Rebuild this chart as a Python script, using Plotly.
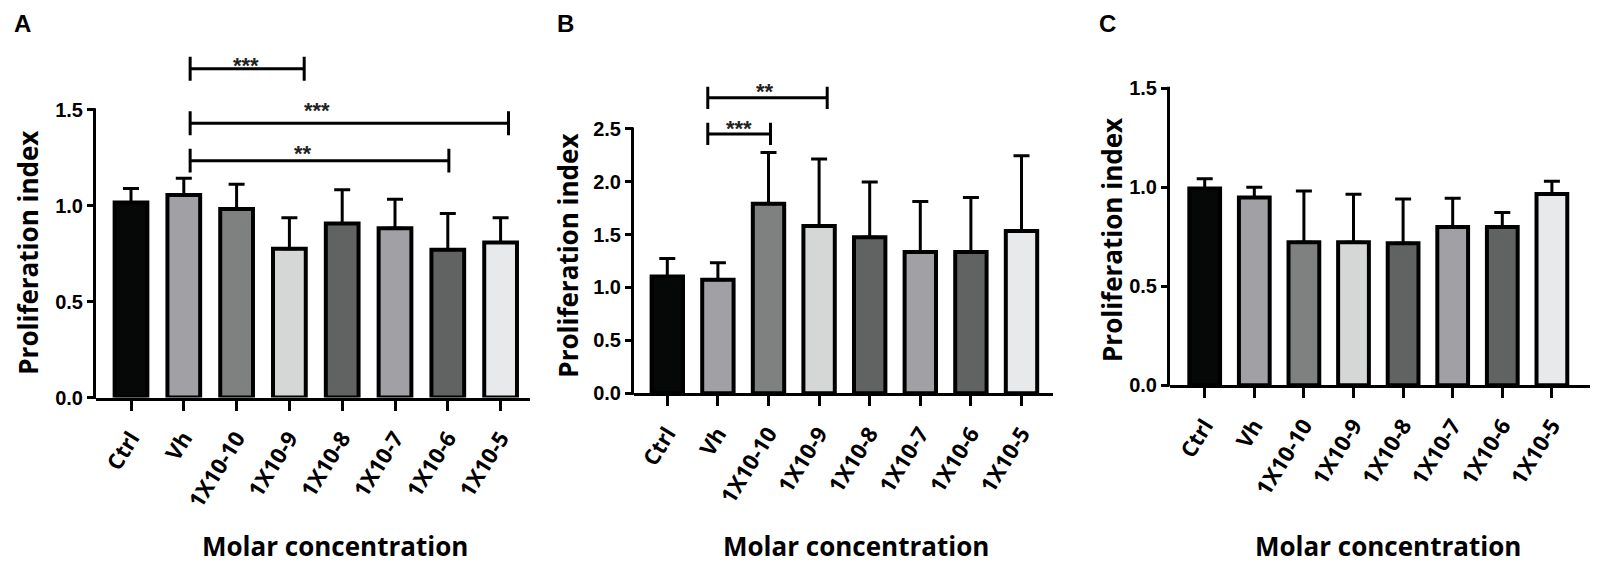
import plotly.graph_objects as go

# ---------------- data ----------------
categories = ["Ctrl", "Vh", "1X10-10", "1X10-9", "1X10-8", "1X10-7", "1X10-6", "1X10-5"]
bar_colors = ["#060808", "#a1a1a5", "#7f8080", "#d5d7d6", "#616262", "#a1a1a5", "#616262", "#e8e9ea"]

means_a = [1.017, 1.056, 0.983, 0.776, 0.907, 0.883, 0.770, 0.808]
sd_a = [0.073, 0.087, 0.129, 0.161, 0.176, 0.151, 0.189, 0.129]

means_b = [1.104, 1.072, 1.792, 1.581, 1.474, 1.335, 1.335, 1.535]
sd_b = [0.169, 0.161, 0.484, 0.634, 0.524, 0.478, 0.515, 0.710]

means_c = [0.994, 0.948, 0.722, 0.722, 0.717, 0.799, 0.799, 0.966]
sd_c = [0.049, 0.052, 0.259, 0.242, 0.224, 0.146, 0.074, 0.064]

ytick_vals_a = [0, 0.5, 1.0, 1.5]
ytick_vals_b = [0, 0.5, 1.0, 1.5, 2.0, 2.5]
ytick_vals_c = [0, 0.5, 1.0, 1.5]

# significance brackets (category-index positions, y in data units)
brk_a_x0 = [1.12, 1.12, 1.12]
brk_a_x1 = [3.28, 7.15, 6.02]
brk_a_y = [1.714, 1.430, 1.235]
brk_a_lbl = ["***", "***", "**"]
brk_a_lbl_x = [2.17, 3.52, 3.26]
brk_a_lbl_y = [1.755, 1.524, 1.297]

brk_b_x0 = [0.80, 0.80]
brk_b_x1 = [3.16, 2.04]
brk_b_y = [2.794, 2.452]
brk_b_lbl = ["**", "***"]
brk_b_lbl_x = [1.93, 1.41]
brk_b_lbl_y = [2.90, 2.55]

# ---------------- layout geometry (pixels) ----------------
W, H = 1603, 566
panels = [
    dict(left=88, right=522, zero=397.0, scale=196.0, ymax=1.8, ytop=1.5, x0=123.0, dx=52.8,
         means=means_a, sd=sd_a, ticks=ytick_vals_a,
         brk=(brk_a_x0, brk_a_x1, brk_a_y, brk_a_lbl, brk_a_lbl_x, brk_a_lbl_y), half=0.062,
         letter="A", letter_x=14, ytitle_x=20, ytitle_y=249, xtitle_x=327),
    dict(left=626, right=1045, zero=392.5, scale=108.0, ymax=2.95, ytop=2.5, x0=659.3, dx=50.6,
         means=means_b, sd=sd_b, ticks=ytick_vals_b,
         brk=(brk_b_x0, brk_b_x1, brk_b_y, brk_b_lbl, brk_b_lbl_x, brk_b_lbl_y), half=0.105,
         letter="B", letter_x=557, ytitle_x=560, ytitle_y=252, xtitle_x=848),
    dict(left=1162, right=1582, zero=384.3, scale=202.2, ymax=1.55, ytop=1.5, x0=1196.7, dx=49.6,
         means=means_c, sd=sd_c, ticks=ytick_vals_c, brk=None, half=0,
         letter="C", letter_x=1099, ytitle_x=1104, ytitle_y=236, xtitle_x=1380),
]

fig = go.Figure()
shapes = []
annotations = []
layout_axes = {}

for i, p in enumerate(panels, start=1):
    xa = "x" if i == 1 else f"x{i}"
    ya = "y" if i == 1 else f"y{i}"
    xkey = "xaxis" if i == 1 else f"xaxis{i}"
    ykey = "yaxis" if i == 1 else f"yaxis{i}"

    top_px = p["zero"] - p["ymax"] * p["scale"]
    xdom = [p["left"] / W, p["right"] / W]
    ydom = [1 - p["zero"] / H, 1 - top_px / H]
    xr = [(p["left"] - p["x0"]) / p["dx"], (p["right"] - p["x0"]) / p["dx"]]

    fig.add_trace(go.Bar(
        x=list(range(len(categories))), y=p["means"],
        xaxis=xa, yaxis=ya, width=0.62,
        marker=dict(color=bar_colors, line=dict(color="black", width=4)),
        error_y=dict(type="data", symmetric=False, array=p["sd"], arrayminus=[0] * len(p["sd"]),
                     color="black", thickness=3, width=8),
        showlegend=False, hoverinfo="skip",
    ))

    layout_axes[xkey] = dict(
        domain=xdom, range=xr, anchor=ya,
        tickmode="array", tickvals=list(range(len(categories))), ticktext=categories,
        tickangle=-58, ticks="outside", ticklen=10, tickwidth=3, tickcolor="black",
        ticklabelstandoff=6,
        showline=True, linewidth=3, linecolor="black", showgrid=False, zeroline=False,
        tickfont=dict(family="Open Sans", size=22, color="black", weight="bold"),
    )
    layout_axes[ykey] = dict(
        domain=ydom, range=[0, p["ymax"]], anchor=xa,
        tickmode="array", tickvals=p["ticks"], ticktext=[f"{v:.1f}" for v in p["ticks"]],
        ticks="outside", ticklen=8, tickwidth=3, tickcolor="black",
        showline=False, showgrid=False, zeroline=False,
        tickfont=dict(family="Liberation Sans", size=20, color="black", weight="bold"),
    )

    # y axis line only up to last tick
    shapes.append(dict(type="line", xref="paper", yref="paper",
                       x0=xdom[0] - 1.5 / W, x1=xdom[0] - 1.5 / W,
                       y0=ydom[0] - 1.5 / H, y1=ydom[0] + p["ytop"] * p["scale"] / H + 1.5 / H,
                       line=dict(color="black", width=3)))

    if p["brk"]:
        bx0, bx1, by, blbl, blx, bly = p["brk"]
        for k in range(len(bx0)):
            shapes.append(dict(type="path", xref=xa, yref=ya,
                               path=(f"M{bx0[k]},{by[k]-p['half']} L{bx0[k]},{by[k]+p['half']} "
                                     f"M{bx0[k]},{by[k]} L{bx1[k]},{by[k]} "
                                     f"M{bx1[k]},{by[k]-p['half']} L{bx1[k]},{by[k]+p['half']}"),
                               line=dict(color="black", width=3)))
            annotations.append(dict(xref=xa, yref=ya, x=blx[k], y=bly[k], text=f"<b>{blbl[k]}</b>",
                                    showarrow=False, yanchor="middle", yshift=-5,
                                    font=dict(family="Liberation Sans", size=22, color="#222")))

    annotations.append(dict(xref="paper", yref="paper", x=p["letter_x"] / W, y=1 - 15 / H,
                            text=f"<b>{p['letter']}</b>", showarrow=False, xanchor="center", yanchor="middle",
                            font=dict(family="Liberation Sans", size=24, color="black")))
    annotations.append(dict(xref="paper", yref="paper", x=p["ytitle_x"] / W, y=1 - p["ytitle_y"] / H,
                            text="<b>Proliferation index</b>", textangle=-90, showarrow=False,
                            xanchor="center", yanchor="middle",
                            font=dict(family="Open Sans", size=26, color="black")))
    annotations.append(dict(xref="paper", yref="paper", x=p["xtitle_x"] / W, y=0,
                            text="<b>Molar concentration</b>", showarrow=False,
                            xanchor="center", yanchor="bottom", yshift=-3,
                            font=dict(family="Open Sans", size=26, color="black")))

fig.update_layout(
    width=W, height=H, margin=dict(l=0, r=0, t=0, b=0),
    plot_bgcolor="white", paper_bgcolor="white", showlegend=False,
    bargap=0.3, shapes=shapes, annotations=annotations, **layout_axes,
)

fig.write_html("out.html")
